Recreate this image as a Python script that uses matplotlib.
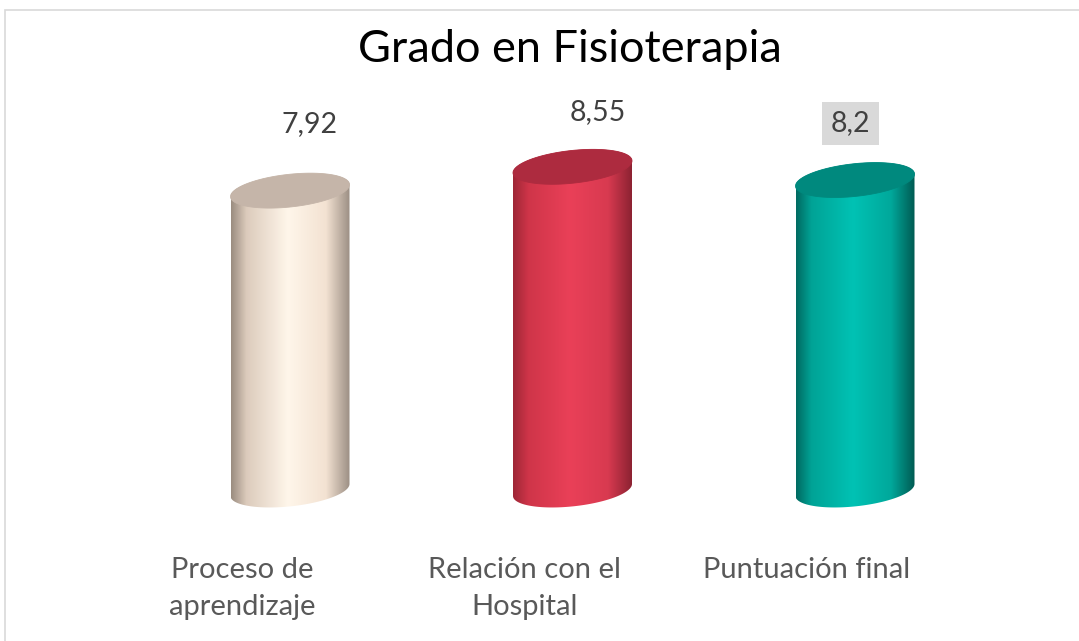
import numpy as np
import matplotlib
matplotlib.use("Agg")
import matplotlib.pyplot as plt
from matplotlib.patches import Polygon, Rectangle
from matplotlib.colors import LinearSegmentedColormap

# ---- data ----
title = "Grado en Fisioterapia"
categories = ["Proceso de\naprendizaje", "Relación con el\nHospital", "Puntuación final"]
values = [7.92, 8.55, 8.2]
value_labels = ["7,92", "8,55", "8,2"]

# ---- style ----
body_stops = [
    ["#9a8c80", "#dccbbc", "#fff6ea", "#f3e2d2", "#9c8f84"],
    ["#9e2636", "#cf3549", "#ea4058", "#d83a50", "#8c2232"],
    ["#006a61", "#00a396", "#00c2b4", "#00a89b", "#005a52"],
]
cap_colors = ["#c5b5a9", "#ad2b3f", "#00897e"]
label_dx = [0.07, 0.09, -0.015]
label_dy = [1.75, 1.45, 1.5]
font = ["Lato", "DejaVu Sans"]

W, H = 1079, 641
fig = plt.figure(figsize=(W / 100, H / 100), dpi=100)
ax = fig.add_axes([0, 0, 1, 1])
ppu_y = 37.8      # pixels per value unit
ppu_x = 282.5     # pixels per category
base_px = 490
cx0_px = 290
ax.set_xlim(-cx0_px / ppu_x, (W - cx0_px) / ppu_x)
ax.set_ylim((base_px - H) / ppu_y, base_px / ppu_y)
ax.axis("off")

# outer frame
fig.patches.append(Rectangle((5 / W, -0.1), 1.2, 1.1 - 10 / H, transform=fig.transFigure,
                             fill=False, edgecolor="#d9d9d9", linewidth=1.2))

a = 59.5 / ppu_x          # half width (data)
b = 16.4 / ppu_y          # ellipse semi-minor (data)
k = (6 / ppu_y) / a       # shear

t = np.linspace(0, 2 * np.pi, 200)
for i, v in enumerate(values):
    cx = i
    tb = np.linspace(np.pi, 2 * np.pi, 100)
    bx = cx + a * np.cos(tb)
    by = 0 + b * np.sin(tb) + k * a * np.cos(tb)
    tt = np.linspace(0, np.pi, 100)
    tx = cx + a * np.cos(tt)
    ty = v + b * np.sin(tt) + k * a * np.cos(tt)
    px = np.concatenate([bx, tx])
    py = np.concatenate([by, ty])
    body = Polygon(np.column_stack([px, py]), closed=True, facecolor="none", edgecolor="none")
    ax.add_patch(body)
    cmap = LinearSegmentedColormap.from_list(
        f"c{i}", list(zip([0, 0.13, 0.48, 0.8, 1.0], body_stops[i])))
    grad = np.linspace(0, 1, 256)[None, :]
    im = ax.imshow(grad, cmap=cmap, aspect="auto", interpolation="bilinear",
                   extent=[cx - a, cx + a, py.min() - 0.1, py.max() + 0.1], zorder=2)
    im.set_clip_path(body)
    capx = cx + a * np.cos(t)
    capy = v + b * np.sin(t) + k * a * np.cos(t)
    ax.add_patch(Polygon(np.column_stack([capx, capy]), closed=True,
                         facecolor=cap_colors[i], edgecolor=cap_colors[i], linewidth=0.6, zorder=3))

    txt = ax.text(cx + label_dx[i], v + label_dy[i], value_labels[i], ha="center", va="center",
                  fontsize=20.5, color="#404040", family=font, zorder=4)
    if i == 2:
        txt.set_bbox(dict(facecolor="#d9d9d9", edgecolor="none", boxstyle="square,pad=0.3"))

    ax.text(cx - 0.17, (base_px - 557) / ppu_y, categories[i], ha="center", va="top",
            fontsize=21, color="#595959", family=font, linespacing=1.5, zorder=4)

fig.text(570 / W, 1 - 50 / H, title, ha="center", va="center", fontsize=32.5,
         color="#000000", family=font)

fig.savefig("out.png", dpi=100)
